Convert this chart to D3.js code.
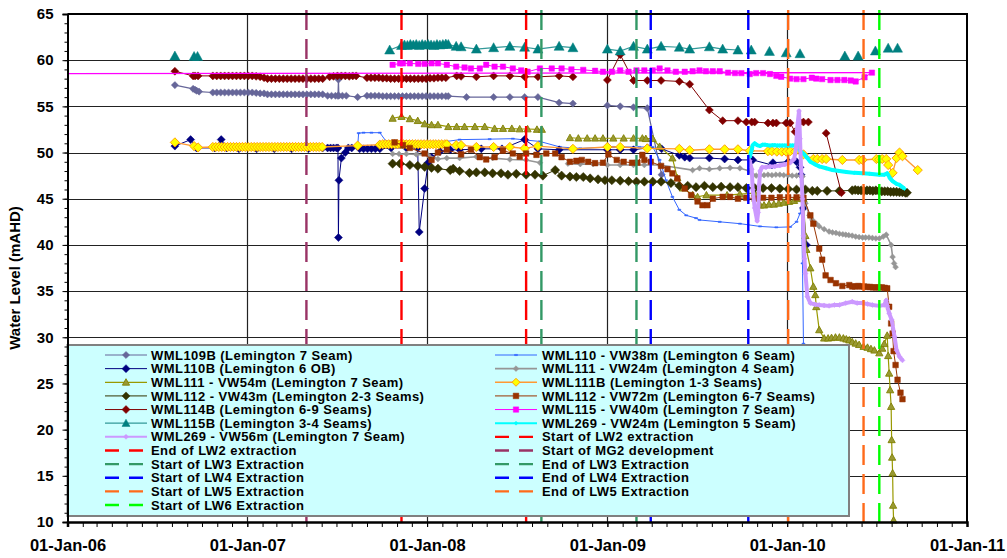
<!DOCTYPE html>
<html><head><meta charset="utf-8">
<script src="https://cdn.jsdelivr.net/npm/d3@7"></script>
<style>
body{margin:0;background:#fff}
svg{display:block}
text{font-family:Arial,"Liberation Sans",sans-serif;font-weight:bold;fill:#000}
</style>
</head><body>
<svg id="c" width="1007" height="558"></svg>
<script>
// ---------- axis ticks ----------
const yTicks = [10,15,20,25,30,35,40,45,50,55,60,65];
const xTickDates = ["2006-01-01","2007-01-01","2008-01-01","2009-01-01","2010-01-01","2011-01-01"];
const xTickLabels = ["01-Jan-06","01-Jan-07","01-Jan-08","01-Jan-09","01-Jan-10","01-Jan-11"];

// ---------- series (date, water level mAHD); null = gap ----------
const wml109B = [["2006-08-07",57.3],["2006-09-13",56.9],["2006-09-17",56.8],["2006-09-20",56.7],["2006-09-25",56.6],
 ["2006-10-23",56.5],["2006-10-31",56.5],["2006-11-08",56.5],["2006-11-16",56.5],["2006-11-24",56.5],["2006-12-02",56.5],["2006-12-10",56.5],["2006-12-18",56.5],["2006-12-26",56.5],["2007-01-03",56.5],["2007-01-11",56.5],["2007-01-19",56.45],["2007-01-27",56.4],["2007-02-04",56.4],
 ["2007-02-11",56.3],["2007-02-19",56.3],["2007-02-27",56.3],["2007-03-07",56.3],["2007-03-15",56.3],["2007-03-23",56.3],["2007-03-31",56.3],["2007-04-08",56.3],["2007-04-16",56.3],["2007-04-24",56.3],["2007-05-02",56.3],["2007-05-10",56.3],["2007-05-18",56.3],["2007-05-26",56.3],["2007-06-03",56.3],
 ["2007-06-13",56.15],["2007-06-21",56.15],["2007-06-29",56.15],["2007-07-04",56.15],["2007-07-05",57.9],["2007-07-06",56.15],["2007-07-13",56.15],["2007-07-21",56.15],["2007-08-13",56.0],
 ["2007-09-01",56.15],["2007-09-09",56.15],["2007-09-17",56.15],["2007-09-25",56.15],["2007-10-03",56.1],["2007-10-11",56.1],["2007-10-19",56.1],["2007-10-27",56.1],["2007-11-04",56.1],["2007-11-12",56.1],["2007-11-20",56.1],["2007-11-28",56.1],["2007-12-06",56.1],["2007-12-14",56.1],["2007-12-22",56.1],["2007-12-30",56.1],["2008-01-07",56.1],["2008-01-15",56.1],["2008-01-23",56.1],["2008-01-31",56.1],["2008-02-08",56.1],["2008-02-13",56.1],
 ["2008-03-21",56.0],["2008-05-15",56.0],["2008-06-17",56.0],["2008-07-17",56.0],["2008-08-13",56.0],["2008-09-25",55.4],["2008-10-23",55.3],null,
 ["2009-01-01",55.1],["2009-01-27",55.0],["2009-02-23",54.9],["2009-03-23",54.8],["2009-04-21",47.6]];

const wml110 = [["2007-08-13",50.6],["2007-08-15",52.1],["2007-08-25",52.15],["2007-09-10",52.15],["2007-09-27",52.15],["2007-10-10",51.2],["2007-10-23",50.6],["2007-11-20",50.6],["2007-12-20",50.6],["2008-01-20",50.7],["2008-02-10",51.2],["2008-03-07",51.4],["2008-05-07",51.45],["2008-06-23",51.5],["2008-07-20",51.35],["2008-08-17",51.2],["2008-09-27",50.6],["2008-11-07",50.45],["2009-01-13",50.6],["2009-03-07",50.6],["2009-04-03",50.6],["2009-04-17",49.2],["2009-04-30",47.0],["2009-05-13",45.2],["2009-05-27",43.8],["2009-06-10",43.2],["2009-06-30",42.9],["2009-07-07",42.7],["2009-08-17",42.5],["2009-09-27",42.3],["2009-11-07",42.0],["2009-12-10",41.9],["2010-01-07",41.95],["2010-01-20",42.5],["2010-01-27",43.4],["2010-01-30",43.8],["2010-02-01",38.0],["2010-02-03",29.3]];

const wml110B = [["2006-08-07",50.7],["2006-09-08",51.4],["2006-09-20",50.5],["2006-10-27",50.5],["2006-11-09",51.4],["2006-11-20",50.5],["2006-12-15",50.4],["2007-01-20",50.4],["2007-02-25",50.4],["2007-04-01",50.4],["2007-05-05",50.4],["2007-06-03",50.5],["2007-06-13",50.5],["2007-06-19",50.5],["2007-06-25",50.5],["2007-07-01",50.5],["2007-07-04",50.5],["2007-07-05",40.8],["2007-07-06",47.0],["2007-07-11",49.4],["2007-07-19",50.0],["2007-07-25",50.5],["2007-08-01",50.5],["2007-08-17",50.4],["2007-08-25",50.4],["2007-09-02",50.4],["2007-09-10",50.4],["2007-09-18",50.4],["2007-09-27",50.4],["2007-10-20",50.5],["2007-11-20",50.5],["2007-12-13",50.5],["2007-12-16",41.4],["2007-12-27",46.1],["2008-01-03",48.9],["2008-01-10",49.5],["2008-01-27",50.1],["2008-02-17",50.3],["2008-03-07",50.3],["2008-04-20",50.4],["2008-06-01",50.4],["2008-07-17",51.4],["2008-08-13",50.4],["2008-09-25",50.3],["2009-01-01",50.3],["2009-01-27",50.3],["2009-02-23",50.3],["2009-03-23",50.5],["2009-04-21",50.4],["2009-05-27",49.7],["2009-06-07",49.5],["2009-06-17",49.4],["2009-07-27",49.4],["2009-08-27",49.3],["2009-09-23",49.2],["2009-10-23",49.2],["2009-12-01",48.65],["2009-12-03",48.9],["2010-01-03",49.0],["2010-01-20",49.0],["2010-01-27",48.4],["2010-01-29",47.6],["2010-02-03",44.0],["2010-02-09",40.0]];

const wml111VW24 = [["2007-10-23",49.85],["2007-11-05",49.85],["2007-11-20",49.85],["2007-12-10",49.8],["2008-01-03",49.7],["2008-01-23",49.3],["2008-02-10",49.4],["2008-03-07",49.4],["2008-04-10",49.55],["2008-05-13",49.4],["2008-06-17",49.25],["2008-07-20",49.2],["2008-08-17",48.9],null,
 ["2008-10-13",48.8],["2008-11-07",48.75],["2008-12-03",48.75],["2009-01-01",48.65],["2009-01-27",48.65],["2009-02-23",48.65],["2009-03-17",48.65],["2009-04-17",48.65],["2009-06-23",48.1],["2009-07-07",48.3],["2009-07-27",48.2],["2009-08-17",48.3],["2009-09-07",48.35],["2009-09-27",48.3],["2009-10-17",48.0],["2009-10-30",47.5],["2009-11-07",47.55],["2009-11-15",47.55],["2009-11-23",47.6],["2009-12-01",47.55],["2009-12-09",47.6],["2009-12-17",47.6],["2009-12-25",47.55],["2010-01-03",47.55],["2010-01-11",47.5],["2010-01-20",47.5],["2010-02-01",47.4],
 ["2010-02-07",44.5],["2010-02-15",43.2],["2010-02-21",42.7],["2010-03-01",42.3],["2010-03-07",42.0],["2010-03-17",41.7],["2010-03-27",41.45],["2010-04-03",41.35],["2010-04-10",41.3],["2010-04-17",41.2],["2010-04-24",41.15],["2010-04-30",41.1],["2010-05-06",41.05],["2010-05-13",41.0],["2010-05-20",40.9],["2010-05-27",40.85],["2010-06-03",40.8],["2010-06-09",40.8],["2010-06-16",40.8],["2010-06-23",40.75],["2010-06-30",40.7],["2010-07-07",40.7],["2010-07-15",40.9],["2010-07-21",41.1],["2010-07-31",40.0],["2010-08-03",38.7],["2010-08-06",38.0],["2010-08-09",37.6]];

const wml111VW54 = [["2007-10-23",53.7],["2007-11-10",53.9],["2007-11-27",53.65],["2007-12-13",53.45],["2007-12-27",53.1],["2008-01-10",53.0],["2008-01-23",53.0],["2008-02-13",52.8],["2008-03-01",52.8],["2008-03-17",52.8],["2008-04-07",52.8],["2008-04-27",52.8],["2008-05-17",52.6],["2008-06-03",52.6],["2008-06-21",52.6],["2008-07-07",52.55],["2008-07-23",52.55],["2008-08-11",52.5],["2008-08-21",52.5],null,
 ["2008-10-17",51.6],["2008-11-03",51.55],["2008-11-21",51.55],["2008-12-07",51.55],["2008-12-23",51.55],["2009-01-13",51.55],["2009-02-03",51.55],["2009-02-23",51.55],["2009-03-13",51.55],["2009-03-20",51.5],["2009-04-03",51.5],["2009-04-17",50.65],["2009-05-13",49.4],["2009-05-23",47.25],["2009-06-03",46.15],["2009-06-23",45.4],["2009-07-03",45.2],["2009-07-21",45.4],["2009-09-01",45.4],["2009-09-27",45.5],["2009-10-27",45.6],
 ["2009-11-07",44.3],["2009-11-15",44.3],["2009-11-25",44.4],["2009-12-05",44.4],["2009-12-15",44.5],["2009-12-25",44.6],["2010-01-05",44.7],["2010-01-15",44.8],["2010-01-23",45.0],["2010-02-03",45.0],
 ["2010-02-07",41.0],["2010-02-09",39.5],["2010-02-17",37.5],["2010-02-23",35.5],["2010-02-27",34.6],["2010-03-01",33.3],["2010-03-07",30.8],["2010-03-17",29.9],["2010-03-25",29.9],["2010-04-01",29.95],["2010-04-09",30.0],["2010-04-17",30.0],["2010-04-25",29.9],["2010-05-01",29.8],["2010-05-07",29.7],["2010-05-13",29.5],["2010-05-20",29.35],["2010-05-27",29.2],["2010-06-05",29.0],["2010-06-13",28.9],["2010-06-20",28.75],["2010-06-27",28.6],["2010-07-07",28.3],["2010-07-13",28.8],["2010-07-17",29.3],["2010-07-23",30.2],["2010-07-25",28.0],["2010-07-27",26.1],["2010-07-29",24.3],["2010-07-31",22.5],["2010-08-01",18.9],["2010-08-02",17.0],["2010-08-03",15.3],["2010-08-04",11.8],["2010-08-05",10.2]];

const wml111B = [["2006-08-07",51.1],["2006-09-15",50.7],["2006-09-23",50.55],
 ["2006-10-23",50.6],["2006-10-29",50.6],["2006-11-04",50.6],["2006-11-10",50.6],["2006-11-16",50.6],["2006-11-22",50.6],["2006-11-28",50.6],["2006-12-04",50.6],["2006-12-10",50.6],["2006-12-16",50.6],["2006-12-22",50.6],["2006-12-28",50.6],["2007-01-03",50.6],["2007-01-09",50.6],["2007-01-15",50.6],["2007-01-21",50.6],["2007-01-27",50.6],["2007-02-02",50.6],["2007-02-08",50.6],["2007-02-14",50.6],["2007-02-20",50.6],["2007-02-26",50.6],["2007-03-04",50.6],["2007-03-10",50.6],["2007-03-16",50.6],["2007-03-22",50.6],["2007-03-28",50.6],["2007-04-03",50.6],["2007-04-09",50.6],["2007-04-15",50.6],["2007-04-21",50.6],["2007-04-27",50.6],["2007-05-03",50.6],["2007-05-09",50.6],["2007-05-15",50.6],["2007-05-21",50.6],["2007-05-27",50.6],["2007-06-02",50.6],
 ["2007-08-13",50.75],["2007-09-27",50.85],["2007-10-03",50.9],["2007-10-09",50.9],["2007-10-15",50.9],["2007-10-21",50.9],["2007-10-27",50.9],["2007-11-02",50.9],["2007-11-08",50.9],["2007-11-14",50.9],["2007-11-20",50.9],["2007-11-26",50.9],["2007-12-02",50.9],["2007-12-08",50.9],["2007-12-14",50.9],["2007-12-20",50.9],["2007-12-26",50.9],["2008-01-01",50.9],["2008-01-07",50.9],["2008-01-13",50.9],["2008-01-19",50.9],["2008-01-25",50.9],["2008-01-31",50.9],["2008-02-06",50.9],["2008-02-10",50.9],
 ["2008-02-29",50.8],["2008-03-10",50.8],["2008-04-10",50.6],["2008-05-15",50.6],["2008-06-17",50.6],["2008-07-17",50.45],["2008-08-13",50.7],["2008-10-23",50.4],["2009-01-01",50.6],["2009-01-27",50.6],["2009-03-23",50.45],["2009-05-27",50.4],["2009-06-17",50.25],["2009-07-27",50.35],["2009-08-27",50.35],["2009-09-23",50.35],["2009-10-17",50.2],["2009-11-23",50.15],["2009-12-01",50.15],["2009-12-11",50.1],["2009-12-21",50.1],["2009-12-30",50.1],["2010-01-07",50.15],["2010-01-17",50.1],["2010-02-03",49.8],["2010-02-23",49.3],["2010-03-03",49.3],["2010-03-13",49.3],["2010-03-21",49.3],["2010-04-23",49.2],["2010-05-27",49.2],["2010-06-03",49.2],["2010-07-01",49.3],["2010-07-07",49.25],["2010-07-13",49.3],["2010-07-21",49.3],["2010-07-25",48.65],["2010-08-03",47.8],["2010-08-11",49.4],["2010-08-17",50.0],["2010-08-23",49.6],["2010-09-23",48.1]];

const wml112VW43 = [["2007-10-23",48.8],["2007-11-07",48.8],["2007-11-27",48.65],["2007-12-13",48.55],["2007-12-27",48.45],["2008-01-10",48.35],["2008-01-23",48.25],["2008-02-17",48.1],["2008-02-23",48.25],["2008-03-07",48.0],["2008-03-27",47.8],["2008-04-10",47.85],["2008-04-27",47.85],["2008-05-13",47.75],["2008-05-30",47.75],["2008-06-13",47.6],["2008-06-30",47.7],["2008-07-20",47.6],["2008-08-07",47.6],["2008-08-23",47.5],["2008-09-17",48.1],["2008-09-30",47.5],["2008-10-17",47.4],["2008-10-30",47.35],["2008-11-13",47.35],["2008-11-27",47.2],["2008-12-13",47.1],["2008-12-27",47.0],["2009-01-10",47.0],["2009-01-27",46.95],["2009-02-13",46.9],["2009-03-01",46.85],["2009-03-17",46.85],["2009-04-03",46.85],["2009-04-20",46.85],["2009-05-10",46.7],["2009-05-27",46.4],["2009-06-13",46.4],["2009-06-30",46.25],["2009-07-17",46.4],["2009-08-03",46.25],["2009-08-20",46.3],["2009-09-07",46.25],["2009-09-23",46.25],["2009-10-10",46.15],["2009-10-27",46.15],["2009-11-13",46.15],["2009-11-30",46.15],["2009-12-17",46.1],["2010-01-03",46.05],["2010-01-20",46.0],["2010-02-07",46.0],["2010-02-21",45.85],["2010-03-03",45.85],["2010-03-23",45.85],["2010-04-17",45.85],
 ["2010-05-13",45.9],["2010-05-19",45.95],["2010-05-25",45.9],["2010-05-31",45.9],["2010-06-06",45.85],["2010-06-12",45.9],["2010-06-18",45.9],["2010-06-24",45.85],["2010-06-30",45.9],["2010-07-06",45.85],["2010-07-12",45.8],["2010-07-18",45.8],["2010-07-24",45.8],["2010-07-30",45.75],["2010-08-05",45.75],["2010-08-11",45.75],["2010-08-17",45.7],["2010-08-23",45.7],["2010-08-29",45.65],["2010-09-01",45.65]];

const wml112VW72 = [["2007-10-27",51.1],["2007-11-13",50.8],["2007-11-27",50.5],["2007-12-27",49.9],["2008-01-10",49.2],["2008-01-23",50.0],["2008-02-10",50.3],["2008-03-10",49.8],["2008-03-30",50.3],["2008-04-17",49.5],["2008-04-30",49.25],["2008-05-17",49.5],["2008-06-03",50.2],["2008-06-23",49.9],["2008-07-07",49.55],["2008-07-20",49.9],["2008-08-10",49.75],["2008-08-30",49.9],["2008-09-17",49.9],["2008-09-30",49.5],["2008-10-17",49.0],["2008-10-30",49.1],["2008-11-10",49.2],["2008-11-23",49.0],["2008-12-07",48.85],["2008-12-23",48.9],["2009-01-03",49.8],["2009-01-20",49.2],["2009-02-03",49.0],["2009-02-20",48.9],["2009-03-03",48.9],["2009-03-13",49.75],["2009-03-17",49.2],["2009-03-30",49.0],["2009-04-20",48.55],["2009-05-03",48.2],["2009-05-13",47.75],["2009-05-23",47.2],["2009-06-07",46.1],["2009-06-20",45.4],["2009-07-03",44.7],["2009-07-13",44.3],["2009-07-23",44.3],["2009-08-03",45.0],["2009-08-23",45.2],["2009-09-07",45.2],["2009-09-23",45.0],["2009-10-10",45.1],["2009-10-27",45.0],["2009-11-13",45.1],["2009-11-30",45.1],["2009-12-17",45.15],["2010-01-03",45.15],["2010-01-20",45.15],["2010-02-03",45.1],["2010-02-17",43.2],["2010-02-23",42.3],["2010-03-07",39.6],["2010-03-13",38.4],["2010-03-20",36.7],["2010-03-30",36.2],["2010-04-10",35.85],["2010-04-23",35.55],["2010-05-07",35.65],["2010-05-13",35.5],["2010-05-19",35.5],["2010-05-25",35.55],["2010-05-31",35.5],["2010-06-06",35.5],["2010-06-12",35.45],["2010-06-18",35.45],["2010-06-24",35.4],["2010-06-30",35.4],["2010-07-06",35.4],["2010-07-12",35.4],["2010-07-18",35.35],["2010-07-23",35.3],["2010-07-27",33.3],["2010-07-31",31.5],["2010-08-03",30.4],["2010-08-05",28.5],["2010-08-09",27.0],["2010-08-13",25.4],["2010-08-19",24.0],["2010-08-23",23.3]];

const wml114B = [["2006-08-07",58.8],["2006-09-13",58.3],["2006-09-17",58.3],["2006-09-23",58.3],
 ["2006-10-23",58.3],["2006-10-31",58.3],["2006-11-08",58.3],["2006-11-16",58.3],["2006-11-24",58.3],["2006-12-02",58.3],["2006-12-10",58.3],["2006-12-18",58.3],["2006-12-26",58.3],["2007-01-03",58.3],["2007-01-11",58.3],["2007-01-19",58.25],["2007-01-27",58.2],["2007-02-04",58.1],
 ["2007-02-11",58.0],["2007-02-19",58.0],["2007-02-27",58.0],["2007-03-07",58.0],["2007-03-15",58.0],["2007-03-23",58.0],["2007-03-31",58.0],["2007-04-08",58.0],["2007-04-16",58.0],["2007-04-24",58.0],["2007-05-02",58.0],["2007-05-10",58.0],["2007-05-18",58.0],["2007-05-26",58.0],["2007-06-03",58.0],
 ["2007-06-17",58.2],["2007-06-25",58.25],["2007-07-03",58.3],["2007-07-11",58.3],["2007-07-19",58.3],["2007-07-27",58.25],["2007-08-03",58.3],["2007-08-10",58.3],
 ["2007-09-01",58.1],["2007-09-09",58.1],["2007-09-17",58.1],["2007-09-25",58.1],["2007-10-03",58.05],["2007-10-11",58.05],["2007-10-19",58.0],["2007-10-27",58.0],["2007-11-04",58.0],["2007-11-12",58.0],["2007-11-20",58.0],["2007-11-28",58.0],["2007-12-06",58.0],["2007-12-14",58.0],["2007-12-22",58.0],["2007-12-30",58.0],["2008-01-07",58.05],["2008-01-15",58.05],["2008-01-23",58.1],["2008-01-31",58.1],["2008-02-08",58.1],
 ["2008-03-01",58.3],["2008-03-10",58.25],["2008-04-10",58.2],["2008-05-15",58.3],["2008-06-17",58.3],["2008-07-17",58.2],["2008-08-13",58.2],["2008-09-25",58.3],["2008-10-23",58.2],null,
 ["2009-01-01",57.85],["2009-01-27",60.6],["2009-02-23",57.8],["2009-03-23",57.8],["2009-04-20",57.8],["2009-05-27",57.7],["2009-06-17",57.4],["2009-07-27",54.6],["2009-08-23",53.45],["2009-09-23",53.45],["2009-10-10",53.3],["2009-10-21",53.3],["2009-10-27",53.3],["2009-11-23",53.2],["2009-12-03",53.2],["2009-12-10",53.2],["2009-12-30",53.2],["2010-01-07",53.2],["2010-01-17",52.25],["2010-01-27",53.3],["2010-02-03",53.3],["2010-02-13",53.3],null,
 ["2010-03-21",52.1],["2010-04-21",45.65]];

const wml115VW40 = [["2007-10-23",59.5],["2007-11-07",59.65],["2007-11-13",59.65],["2007-11-27",59.65],["2007-12-14",59.6],["2007-12-27",59.6],["2008-01-10",59.65],["2008-01-23",59.65],["2008-02-10",59.5],["2008-02-29",59.3],["2008-03-17",59.2],["2008-03-30",59.1],["2008-04-17",59.1],["2008-04-30",59.5],["2008-05-17",59.3],["2008-06-03",59.3],["2008-06-23",59.1],["2008-07-10",58.9],["2008-07-23",58.75],["2008-08-17",59.1],["2008-09-10",59.1],["2008-09-30",59.1],["2008-10-20",59.0],["2008-11-13",58.95],["2008-12-07",58.85],["2008-12-23",58.75],["2009-01-10",58.75],["2009-01-27",58.9],["2009-02-13",58.75],["2009-03-01",58.9],["2009-03-17",58.9],["2009-04-03",58.9],["2009-04-17",59.1],["2009-05-03",58.9],["2009-05-20",58.75],["2009-06-07",58.75],["2009-06-23",58.8],["2009-07-07",58.9],["2009-07-20",58.8],["2009-08-03",58.8],["2009-08-17",58.8],["2009-09-03",58.65],["2009-09-17",58.6],["2009-09-30",58.6],["2009-10-17",58.5],["2009-10-30",58.6],["2009-11-13",58.6],["2009-11-27",58.5],["2009-12-10",58.3],["2009-12-20",58.2],["2010-01-07",58.0],["2010-01-20",57.95],["2010-02-03",57.95],["2010-02-20",58.1],["2010-03-01",58.0],["2010-03-13",57.95],["2010-03-30",57.85],["2010-04-13",57.85],["2010-04-27",57.85],["2010-05-10",57.8],["2010-05-20",57.7],["2010-06-07",58.15],["2010-06-22",58.65]];
// unmarked trace of the same logger running back across the chart
const wml115VW40Trace = [["2010-06-22",58.65],["2005-12-01",58.55]];

const wml115B = [["2006-08-07",60.45],null,["2006-09-15",60.4],null,["2006-09-22",60.4],null,
 ["2007-10-17",61.1],["2007-11-10",61.6],["2007-11-16",61.65],["2007-11-22",61.6],["2007-11-28",61.7],["2007-12-04",61.65],["2007-12-10",61.7],["2007-12-16",61.6],["2007-12-22",61.7],["2007-12-28",61.65],["2008-01-03",61.7],["2008-01-09",61.65],["2008-01-15",61.6],["2008-01-21",61.7],["2008-01-27",61.65],["2008-02-02",61.7],["2008-02-08",61.75],["2008-02-13",61.7],["2008-02-29",61.5],["2008-03-10",61.45],["2008-04-10",61.2],["2008-05-15",61.35],["2008-06-17",61.5],["2008-07-17",61.4],["2008-08-13",61.2],["2008-09-25",61.5],["2008-10-23",61.35],null,
 ["2009-01-01",61.2],["2009-01-27",61.0],["2009-02-23",61.5],["2009-03-23",61.2],["2009-04-20",61.5],["2009-05-27",61.4],["2009-06-17",61.2],["2009-07-27",61.45],["2009-08-23",61.2],["2009-09-23",61.1],null,
 ["2009-10-20",61.1],null,["2009-11-26",60.95],null,["2009-12-30",60.8],null,["2010-01-27",60.7],null,["2010-04-28",60.45],null,["2010-05-25",60.45],null,["2010-06-29",61.0],null,["2010-07-25",61.3],null,["2010-08-13",61.3]];

const wml269VW24 = [["2009-10-17",49.5],["2009-10-21",50.3],["2009-10-23",50.8],["2009-10-27",51.0],["2009-11-01",50.8],["2009-11-07",50.7],["2009-11-12",50.85],["2009-11-17",50.85],["2009-11-22",50.8],["2009-11-27",50.75],["2009-12-02",50.8],["2009-12-07",50.8],["2009-12-12",50.75],["2009-12-17",50.75],["2009-12-22",50.75],["2009-12-27",50.75],["2010-01-02",50.75],["2010-01-07",50.75],["2010-01-12",50.75],["2010-01-17",50.75],["2010-01-21",51.0],["2010-01-27",50.2],["2010-02-03",49.9],["2010-02-11",49.4],["2010-02-17",49.0],["2010-02-27",48.7],["2010-03-07",48.5],["2010-03-21",48.3],["2010-04-03",48.1],["2010-04-17",48.0],["2010-05-01",47.9],["2010-05-17",47.8],["2010-06-03",47.75],["2010-06-17",47.7],["2010-07-07",47.6],["2010-07-17",47.6],["2010-07-23",47.75],["2010-07-29",47.2],["2010-08-03",46.9],["2010-08-11",46.6],["2010-08-17",46.5],["2010-08-27",46.1]];

const wml269VW56 = [["2009-10-17",49.1],["2009-10-21",48.2],["2009-10-23",46.0],["2009-10-27",44.0],["2009-11-01",42.6],["2009-11-03",43.5],["2009-11-05",46.5],["2009-11-07",48.0],["2009-11-11",48.4],["2009-11-19",48.4],["2009-11-27",48.5],["2009-12-07",48.5],["2009-12-17",48.6],["2009-12-27",48.7],["2010-01-07",48.9],["2010-01-15",49.3],["2010-01-19",50.5],["2010-01-21",52.5],["2010-01-25",54.5],["2010-01-27",51.5],["2010-01-29",48.5],["2010-02-01",45.0],["2010-02-03",41.0],["2010-02-05",38.5],["2010-02-07",36.9],["2010-02-11",34.4],["2010-02-17",33.7],["2010-02-27",33.55],["2010-03-07",33.5],["2010-03-17",33.45],["2010-03-27",33.4],["2010-04-07",33.5],["2010-04-17",33.5],["2010-04-30",33.7],["2010-05-13",33.85],["2010-05-23",33.7],["2010-06-03",33.7],["2010-06-13",33.6],["2010-06-23",33.5],["2010-07-07",33.4],["2010-07-17",33.5],["2010-07-21",34.0],["2010-07-23",33.4],["2010-07-27",32.6],["2010-08-01",31.9],["2010-08-07",30.05],["2010-08-11",28.6],["2010-08-17",27.9],["2010-08-23",27.5]];

// ---------- mining events ----------
const eventNames = ["Start of LW2 extraction","End of LW2 extraction","Start of MG2 development","Start of LW3 Extraction","End of LW3 Extraction","Start of LW4 Extraction","End of LW4 Extraction","Start of LW5 Extraction","End of LW5 Extraction","Start of LW6 Extraction"];
const eventDates = ["2007-11-10","2008-07-20","2007-05-01","2008-08-20","2009-03-01","2009-03-30","2009-10-14","2010-01-03","2010-06-05","2010-07-07"];

// ---------- styling ----------
const parse = d3.timeParse("%Y-%m-%d");
const series = [
 {name:"WML109B (Lemington 7 Seam)", data:wml109B, color:"#666699", lw:1.2, shape:"diamond", r:3.6, fill:"#666699"},
 {name:"WML110 - VW38m (Lemington 6 Seam)", data:wml110, color:"#3366FF", lw:1, shape:"dash", r:1.5, fill:"#3366FF"},
 {name:"WML110B (Lemington 6 OB)", data:wml110B, color:"#000080", lw:1, shape:"diamond", r:4, fill:"#000080"},
 {name:"WML111 - VW24m (Lemington 4 Seam)", data:wml111VW24, color:"#969696", lw:1.6, shape:"diamond", r:2.9, fill:"#969696"},
 {name:"WML111 - VW54m (Lemington 7 Seam)", data:wml111VW54, color:"#999900", lw:1.2, shape:"triangle", r:3.6, fill:"#999933", stroke:"#808000"},
 {name:"WML111B (Lemington 1-3 Seams)", data:wml111B, color:"#FF9933", lw:1.4, shape:"diamond", r:4.6, fill:"#FFFF00", stroke:"#FF9900"},
 {name:"WML112 - VW43m (Lemington 2-3 Seams)", data:wml112VW43, color:"#333300", lw:1, shape:"diamond", r:4.6, fill:"#333300"},
 {name:"WML112 - VW72m (Lemington 6-7 Seams)", data:wml112VW72, color:"#993300", lw:1, shape:"square", r:2.8, fill:"#993300"},
 {name:"WML114B (Lemington 6-9 Seams)", data:wml114B, color:"#800000", lw:1, shape:"diamond", r:4, fill:"#800000"},
 {name:"WML115 - VW40m (Lemington 7 Seam)", data:wml115VW40, color:"#FF00FF", lw:1, shape:"square", r:2.7, fill:"#FF00FF", trace:wml115VW40Trace},
 {name:"WML115B (Lemington 3-4 Seams)", data:wml115B, color:"#339999", lw:1.2, shape:"triangle", r:5, fill:"#008080"},
 {name:"WML269 - VW24m (Lemington 5 Seam)", data:wml269VW24, color:"#00FFFF", lw:4, shape:"diamond", r:2, fill:"#00FFFF"},
 {name:"WML269 - VW56m (Lemington 7 Seam)", data:wml269VW56, color:"#CC99FF", lw:4, shape:"diamond", r:2.5, fill:"#CC99FF"}
];
const eventColors = ["#FF0000","#FF0000","#993366","#339966","#339966","#0000FF","#0000FF","#FF6A1A","#FF6A1A","#00FF00"];

const svg = d3.select("#c");
const L=67.5, R=967, T=14, B=522;
const x = d3.scaleTime().domain([parse(xTickDates[0]), parse(xTickDates[xTickDates.length-1])]).range([L,R]);
const y = d3.scaleLinear().domain([yTicks[0], yTicks[yTicks.length-1]]).range([B,T]);

svg.append("defs").append("clipPath").attr("id","clip").append("rect")
  .attr("x",L).attr("y",T-4).attr("width",R-L+4).attr("height",B-T+8);

// gridlines
const g = svg.append("g");
g.selectAll("line.hg").data(yTicks.slice(1,-1)).join("line")
  .attr("x1",L).attr("x2",R).attr("y1",d=>Math.round(y(d))+0.5).attr("y2",d=>Math.round(y(d))+0.5)
  .attr("stroke","#222").attr("stroke-width",1.2);
g.selectAll("line.vg").data(xTickDates.slice(1,-1)).join("line")
  .attr("y1",T).attr("y2",B).attr("x1",d=>Math.round(x(parse(d)))+0.5).attr("x2",d=>Math.round(x(parse(d)))+0.5)
  .attr("stroke","#222").attr("stroke-width",1.2);

// markers
function markerPath(shape,r){
  if(shape==="diamond") return `M0,${-r}L${r},0L0,${r}L${-r},0Z`;
  if(shape==="triangle") return `M0,${-r}L${r},${r*0.8}L${-r},${r*0.8}Z`;
  if(shape==="square") return `M${-r},${-r}H${r}V${r}H${-r}Z`;
  if(shape==="dash") return `M${-r},-0.6H${r}V0.6H${-r}Z`;
  return d3.symbol(d3.symbolCircle, r*r*3.14)();
}

const plot = svg.append("g").attr("clip-path","url(#clip)");
const line = d3.line().defined(p=>p!==null && p[1]!==null).x(p=>x(parse(p[0]))).y(p=>y(p[1]));
series.forEach(s=>{
  const sg = plot.append("g");
  if(s.trace) sg.append("path").attr("d",line(s.trace)).attr("fill","none").attr("stroke",s.color).attr("stroke-width",1.3);
  sg.append("path").attr("d",line(s.data)).attr("fill","none").attr("stroke",s.color)
    .attr("stroke-width",s.lw).attr("stroke-linejoin","round");
  sg.selectAll("path.m").data(s.data.filter(p=>p!==null)).join("path")
    .attr("transform",p=>`translate(${x(parse(p[0]))},${y(p[1])})`)
    .attr("d",markerPath(s.shape,s.r)).attr("fill",s.fill)
    .attr("stroke",s.stroke||s.fill).attr("stroke-width",s.stroke?0.9:0.5);
});

// event lines
svg.append("g").selectAll("line").data(eventDates).join("line")
  .attr("x1",d=>x(parse(d))).attr("x2",d=>x(parse(d))).attr("y1",10).attr("y2",B)
  .attr("stroke",(d,i)=>eventColors[i]).attr("stroke-width",2.4).attr("stroke-dasharray","20,9");

// frame
svg.append("line").attr("x1",L).attr("x2",R+1).attr("y1",T).attr("y2",T).attr("stroke","#000").attr("stroke-width",2);
svg.append("line").attr("x1",R).attr("x2",R).attr("y1",T).attr("y2",B).attr("stroke","#000").attr("stroke-width",2);

// legend
const leg = svg.append("g");
const LX0=L, LY0=345, LX1=849, LY1=516;
leg.append("rect").attr("x",LX0).attr("y",LY0).attr("width",LX1-LX0).attr("height",LY1-LY0)
  .attr("fill","#CCFFFF").attr("stroke","#808080").attr("stroke-width",2);
const entries = series.map(s=>({type:"s",s})).concat(eventNames.map((n,i)=>({type:"e",name:n,color:eventColors[i]})));
const rowH = 13.64;
entries.forEach((e,i)=>{
  const col = i%2, row = Math.floor(i/2);
  const sx = col===0 ? 105 : 495, tx = col===0 ? 151 : 542;
  const cy = 355 + row*rowH;
  const eg = leg.append("g");
  const label = e.type==="s" ? e.s.name : e.name;
  if(e.type==="s"){
    const s=e.s;
    eg.append("line").attr("x1",sx).attr("x2",sx+42).attr("y1",cy).attr("y2",cy)
      .attr("stroke",s.color).attr("stroke-width",Math.min(s.lw,2));
    eg.append("path").attr("transform",`translate(${sx+21},${cy})`)
      .attr("d",markerPath(s.shape,Math.min(s.r,4))).attr("fill",s.fill)
      .attr("stroke",s.stroke||s.fill).attr("stroke-width",s.stroke?0.9:0.5);
  } else {
    eg.append("line").attr("x1",sx).attr("x2",sx+42).attr("y1",cy).attr("y2",cy)
      .attr("stroke",e.color).attr("stroke-width",2.4).attr("stroke-dasharray","14,10");
  }
  eg.append("text").attr("x",tx).attr("y",cy+4.6).attr("font-size",13).attr("letter-spacing",0.45).text(label);
});

// axes
const ya = svg.append("g").attr("transform",`translate(${L},0)`);
ya.call(d3.axisLeft(y).tickValues(d3.range(yTicks[0],yTicks[yTicks.length-1]+1,1)).tickSize(3).tickFormat(""));
ya.call(g=>g.select(".domain").remove());
const yb = svg.append("g").attr("transform",`translate(${L},0)`);
yb.call(d3.axisLeft(y).tickValues(yTicks).tickSize(5).tickPadding(9).tickFormat(d3.format("d")));
yb.select(".domain").attr("stroke","#000").attr("stroke-width",2);
yb.selectAll("text").attr("font-size",15).attr("font-family","Arial, 'Liberation Sans', sans-serif").attr("font-weight","bold");
[ya,yb].forEach(a=>a.selectAll(".tick line").attr("stroke","#000"));

const xa = svg.append("g").attr("transform",`translate(0,${B})`);
xa.call(d3.axisBottom(x).ticks(d3.timeMonth.every(1)).tickSize(5).tickFormat(""));
xa.call(g=>g.select(".domain").remove());
const xb = svg.append("g").attr("transform",`translate(0,${B})`);
xb.call(d3.axisBottom(x).tickValues(xTickDates.map(parse)).tickSize(5).tickPadding(12)
  .tickFormat((d,i)=>xTickLabels[i]));
xb.select(".domain").attr("stroke","#000").attr("stroke-width",2.5);
xb.selectAll("text").attr("font-size",16.5).attr("font-family","Arial, 'Liberation Sans', sans-serif").attr("font-weight","bold");
[xa,xb].forEach(a=>a.selectAll(".tick line").attr("stroke","#000"));

svg.append("text").attr("transform","translate(20,278) rotate(-90)").attr("text-anchor","middle")
  .attr("font-size",15).text("Water Level (mAHD)");
</script>
</body></html>
